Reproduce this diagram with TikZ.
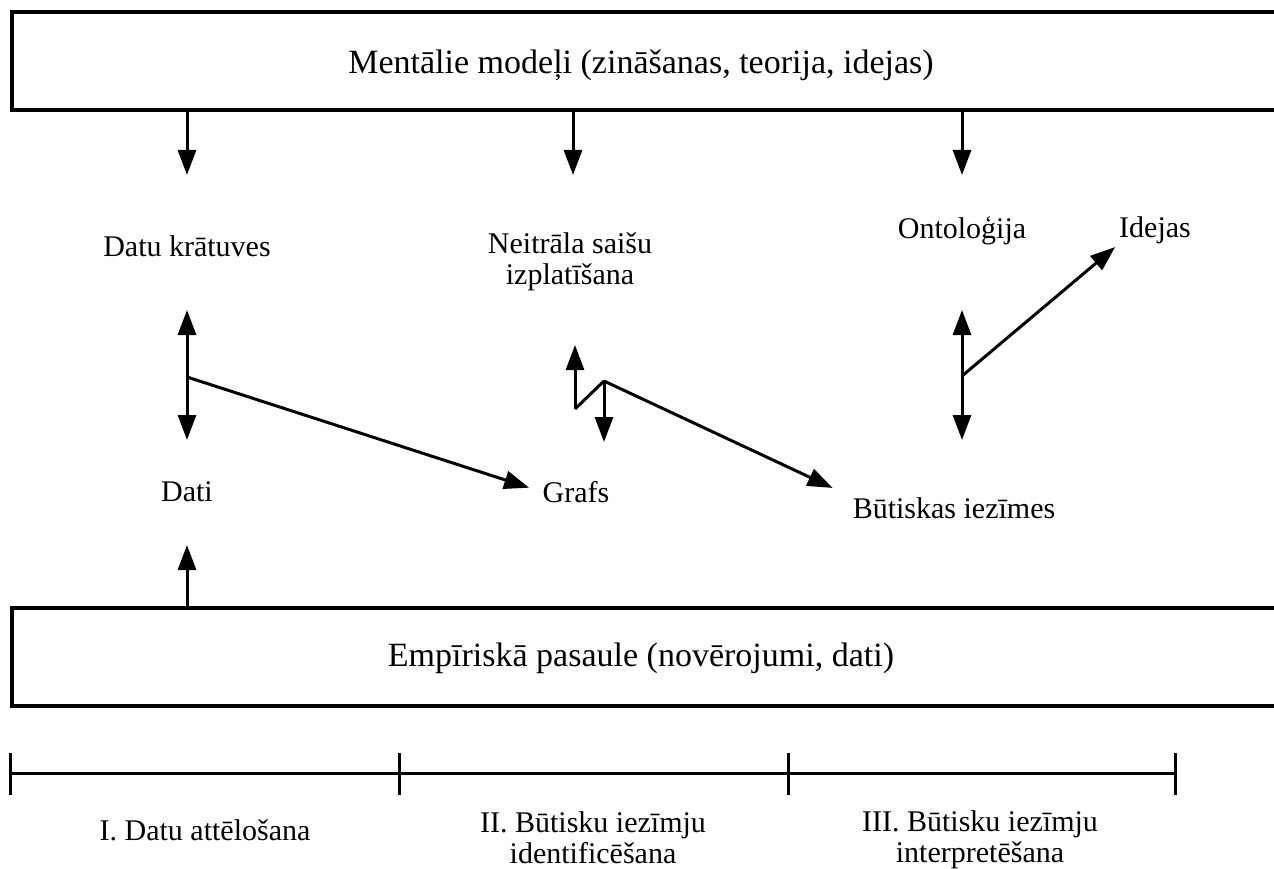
\documentclass[tikz,border=0pt]{standalone}
\usepackage{fontspec}
\setmainfont{Liberation Serif}
\usetikzlibrary{arrows.meta,positioning}

\tikzset{
  bigbox/.style={draw, line width=4pt, minimum height=98pt, minimum width=1300pt, anchor=west, inner sep=0pt},
  bigtext/.style={font=\fontsize{34}{38}\selectfont, inner sep=0pt},
  lbl/.style={font=\fontsize{30}{31}\selectfont, inner sep=0pt, align=center},
  arr/.style={line width=3pt, -{Triangle[length=25pt,width=18pt]}},
  darr/.style={line width=3pt, {Triangle[length=25pt,width=18pt]}-{Triangle[length=25pt,width=18pt]}},
  plain/.style={line width=3pt},
}

\begin{document}
\begin{tikzpicture}[x=1pt,y=-1pt]
\clip (0,0) rectangle (1274,869);

% two big boxes
\node[bigbox] (mental) at (10,61) {};
\node[bigtext] (mentaltxt) at (641,65) {Mentālie modeļi (zināšanas, teorija, idejas)};
\node[bigbox] (empir) at (10,657) {};
\node[bigtext] (empirtxt) at (641,658) {Empīriskā pasaule (novērojumi, dati)};

% labels
\node[lbl] (kratuves) at (187,246) {Datu krātuves};
\node[lbl] (neitr) at (570,262) {Neitrāla saišu\\izplatīšana};
\node[lbl] (onto) at (962,231) {Ontoloģija};
\node[lbl] (idejas) at (1155,230) {Idejas};
\node[lbl] (dati) at (187,492) {Dati};
\node[lbl] (grafs) at (576,492) {Grafs};
\node[lbl] (butisk) at (954,508) {Būtiskas iezīmes};

% arrows down from the models
\draw[arr, shorten >=71pt] (mental.south -| kratuves) -- (kratuves.center);
\draw[arr, shorten >=87pt] (mental.south -| 573,0) -- (573,262);
\draw[arr, shorten >=56pt] (mental.south -| onto) -- (onto.center);

% I
\coordinate (krj) at (187,377);
\draw[darr, shorten <=64pt, shorten >=52pt] (kratuves.center) -- (dati.center);
\draw[arr, shorten >=14pt] (krj) -- (grafs.west);
\draw[arr, shorten >=53pt] (empir.north -| dati) -- (dati.center);

% II
\coordinate (nzig) at (575,409);
\coordinate (nj) at (604,381);
\draw[arr, shorten >=83pt] (nzig) -- (nzig |- neitr.center);
\draw[plain] (nzig) -- (nj);
\draw[arr, shorten >=50pt] (nj) -- (nj |- grafs.center);
\draw[arr, shorten >=22pt] (nj) -- (butisk.north west);

% III
\coordinate (oj) at (962,376);
\draw[darr, shorten <=79pt, shorten >=68pt] (onto.center) -- (onto.center |- butisk.center);
\draw[arr, shorten >=5pt] (oj) -- (idejas.south west);

% time line
\coordinate (t0) at (10,773);
\coordinate (t1) at (399,773);
\coordinate (t2) at (788,773);
\coordinate (t3) at (1175,773);
\draw[plain] (t0) -- (t3);
\foreach \t in {t0,t1,t2,t3}
  \draw[plain] ([yshift=20pt]\t) -- ([yshift=-22pt]\t);

\node[lbl] (ph1) at (205,830) {I. Datu attēlošana};
\node[lbl] (ph2) at (593,838) {II. Būtisku iezīmju\\identificēšana};
\node[lbl] (ph3) at (980,840) {III. Būtisku iezīmju\\interpretēšana};
\end{tikzpicture}
\end{document}
